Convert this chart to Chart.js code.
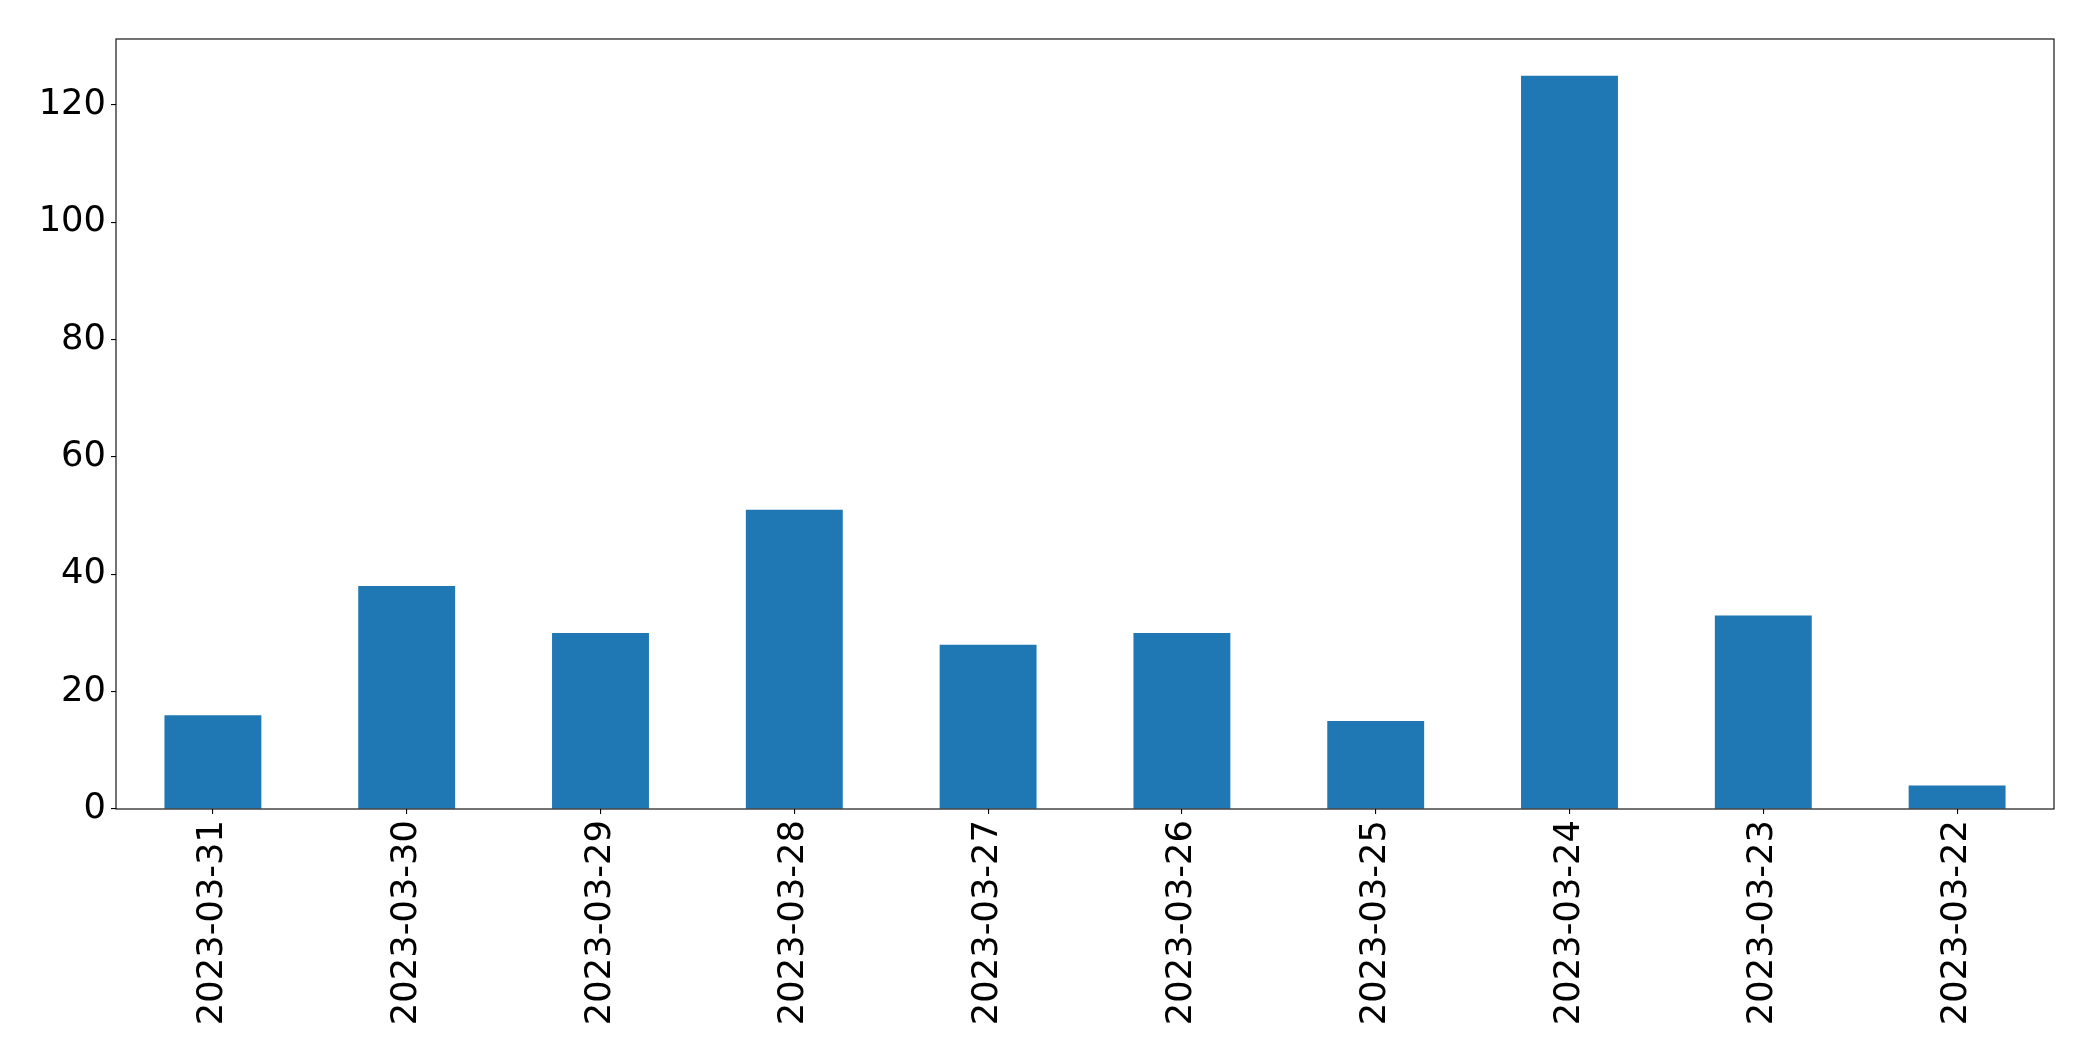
<!DOCTYPE html>
<html>
<head>
<meta charset="utf-8">
<script src="https://cdn.jsdelivr.net/npm/chart.js@4"></script>
<style>
  html, body { margin: 0; padding: 0; background: #fff; }
  #wrap { width: 2093px; height: 1061px; }
</style>
</head>
<body>
<div id="wrap"><canvas id="barChart" width="2093" height="1061"></canvas></div>
<script>
const dates = ['2023-03-31', '2023-03-30', '2023-03-29', '2023-03-28', '2023-03-27',
               '2023-03-26', '2023-03-25', '2023-03-24', '2023-03-23', '2023-03-22'];
const counts = [16, 38, 30, 51, 28, 30, 15, 125, 33, 4];
const yTicks = [0, 20, 40, 60, 80, 100, 120];

const tickFont = { family: 'DejaVu Sans', size: 35.3 };

// frame around the plot area, like matplotlib's spines
const frame = {
  id: 'frame',
  afterDraw(chart) {
    const { ctx, chartArea: a } = chart;
    ctx.save();
    ctx.strokeStyle = '#000';
    ctx.lineWidth = 1.1;
    ctx.strokeRect(a.left, a.top, a.right - a.left, a.bottom - a.top);
    ctx.restore();
  }
};

new Chart(document.getElementById('barChart'), {
  type: 'bar',
  data: {
    labels: dates,
    datasets: [{
      data: counts,
      backgroundColor: '#1f77b4',
      borderWidth: 0,
      categoryPercentage: 0.5,
      barPercentage: 1.0
    }]
  },
  options: {
    responsive: false,
    animation: false,
    layout: { padding: { top: 39, right: 39, left: 0, bottom: 0 } },
    plugins: { legend: { display: false }, tooltip: { enabled: false } },
    scales: {
      x: {
        grid: { offset: false, drawOnChartArea: false, drawTicks: true, tickLength: 5, color: '#000', lineWidth: 1.1 },
        border: { display: false },
        ticks: { color: '#000', font: tickFont, minRotation: 90, maxRotation: 90, autoSkip: false, padding: 6 },
        afterFit: s => { s.height = 252; }
      },
      y: {
        min: 0,
        max: 131.25,
        grid: { drawOnChartArea: false, drawTicks: true, tickLength: 5, color: '#000', lineWidth: 1.1 },
        border: { display: false },
        ticks: { color: '#000', font: tickFont, stepSize: 20, padding: 5 },
        afterBuildTicks: s => { s.ticks = yTicks.map(v => ({ value: v })); },
        afterFit: s => { s.width = 116; }
      }
    }
  },
  plugins: [frame]
});
</script>
</body>
</html>
